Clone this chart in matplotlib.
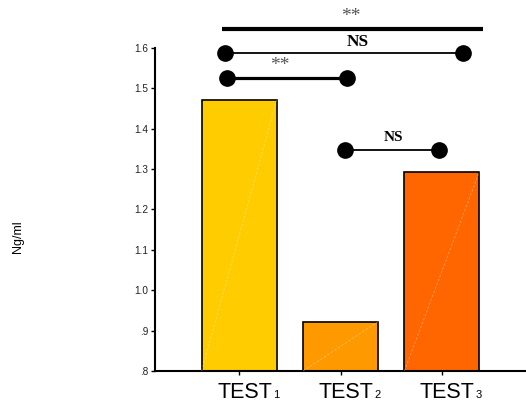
import matplotlib
matplotlib.use('Agg')
import matplotlib.pyplot as plt
import matplotlib.transforms as mtransforms

plt.rcParams['font.family'] = 'Liberation Sans'

# data
labels = ['TEST', 'TEST', 'TEST']
subscripts = ['1', '2', '3']
values = [1.47, 0.922, 1.293]
colors = ['#FFCC00', '#FF9900', '#FF6600']
ytick_vals = [0.8, 0.9, 1.0, 1.1, 1.2, 1.3, 1.4, 1.5, 1.6]
ytick_labels = ['.8', '.9', '1.0', '1.1', '1.2', '1.3', '1.4', '1.5', '1.6']

# significance brackets: (x1, x2, y, label, label_y, linewidth, dots, fontsize)
brackets = [
    (-0.17, 2.41, 1.646, '**', 1.676, 3.0, False, 14),
    (-0.14, 2.21, 1.587, 'NS', 1.615, 1.3, True, 12.5),
    (-0.12, 1.06, 1.525, '**', 1.555, 2.3, True, 14),
    (1.04, 1.97, 1.347, 'NS', 1.378, 1.3, True, 11),
]
label_x = [1.10, 1.17, 0.40, 1.52]


def main():
    fig = plt.figure(figsize=(5.26, 4.01), dpi=100)
    ax = fig.add_axes([0.2947, 0.0748, 0.7053, 0.907])

    x = list(range(len(values)))
    bars = ax.bar(x, [v - 0.8 for v in values], bottom=0.8, width=0.74,
                  color=colors, edgecolor='black', linewidth=1.2, zorder=2)
    # faint diagonal streak inside each bar
    for b in bars:
        x0, y0 = b.get_x(), b.get_y()
        ax.plot([x0, x0 + b.get_width()], [y0, y0 + b.get_height()],
                color='white', alpha=0.35, linewidth=0.6, linestyle=(0, (3, 2)), zorder=3)

    ax.set_xlim(-0.83, 2.83)
    ax.set_ylim(0.8, 1.7)
    ax.set_yticks(ytick_vals)
    ax.set_yticklabels(ytick_labels, fontsize=7.2, color='#222222')
    ax.set_xticks(x)
    ax.set_xticklabels([])

    # category labels with small subscripts, nudged right like the original
    base = mtransforms.blended_transform_factory(ax.transData, ax.transAxes)
    t_main = base + mtransforms.ScaledTranslation(33 / 100, 0, fig.dpi_scale_trans)
    t_sub = base + mtransforms.ScaledTranslation(34 / 100, 0, fig.dpi_scale_trans)
    for xi, lab, sub in zip(x, labels, subscripts):
        ax.text(xi, -0.0742, lab, transform=t_main, ha='right', va='baseline', fontsize=15.5)
        ax.text(xi, -0.0742, sub, transform=t_sub, ha='left', va='baseline', fontsize=8)

    ax.spines['top'].set_visible(False)
    ax.spines['right'].set_visible(False)
    ax.spines['left'].set_bounds(0.8, 1.6)
    ax.spines['left'].set_linewidth(1.5)
    ax.spines['bottom'].set_linewidth(1.5)
    ax.tick_params(axis='y', length=3, width=1, pad=2)
    ax.tick_params(axis='x', length=3, width=1)

    fig.text(0.035, 0.41, 'Ng/ml', rotation=90, fontsize=9, ha='center', va='center')

    for (x1, x2, y, txt, ty, lw, dots, fs), lx in zip(brackets, label_x):
        ax.plot([x1, x2], [y, y], color='black', linewidth=lw, clip_on=False,
                solid_capstyle='butt', zorder=4)
        if dots:
            ax.plot([x1, x2], [y, y], 'o', color='black', markersize=11, clip_on=False, zorder=5)
        if txt == 'NS':
            ax.text(lx, ty, txt, ha='center', va='center', fontsize=fs,
                    family='Liberation Serif', fontweight='bold')
        else:
            ax.text(lx, ty, txt, ha='center', va='center', fontsize=fs,
                    family='Liberation Serif', color='#555555')

    fig.savefig('out.png', dpi=100)


if __name__ == "__main__":
    main()
